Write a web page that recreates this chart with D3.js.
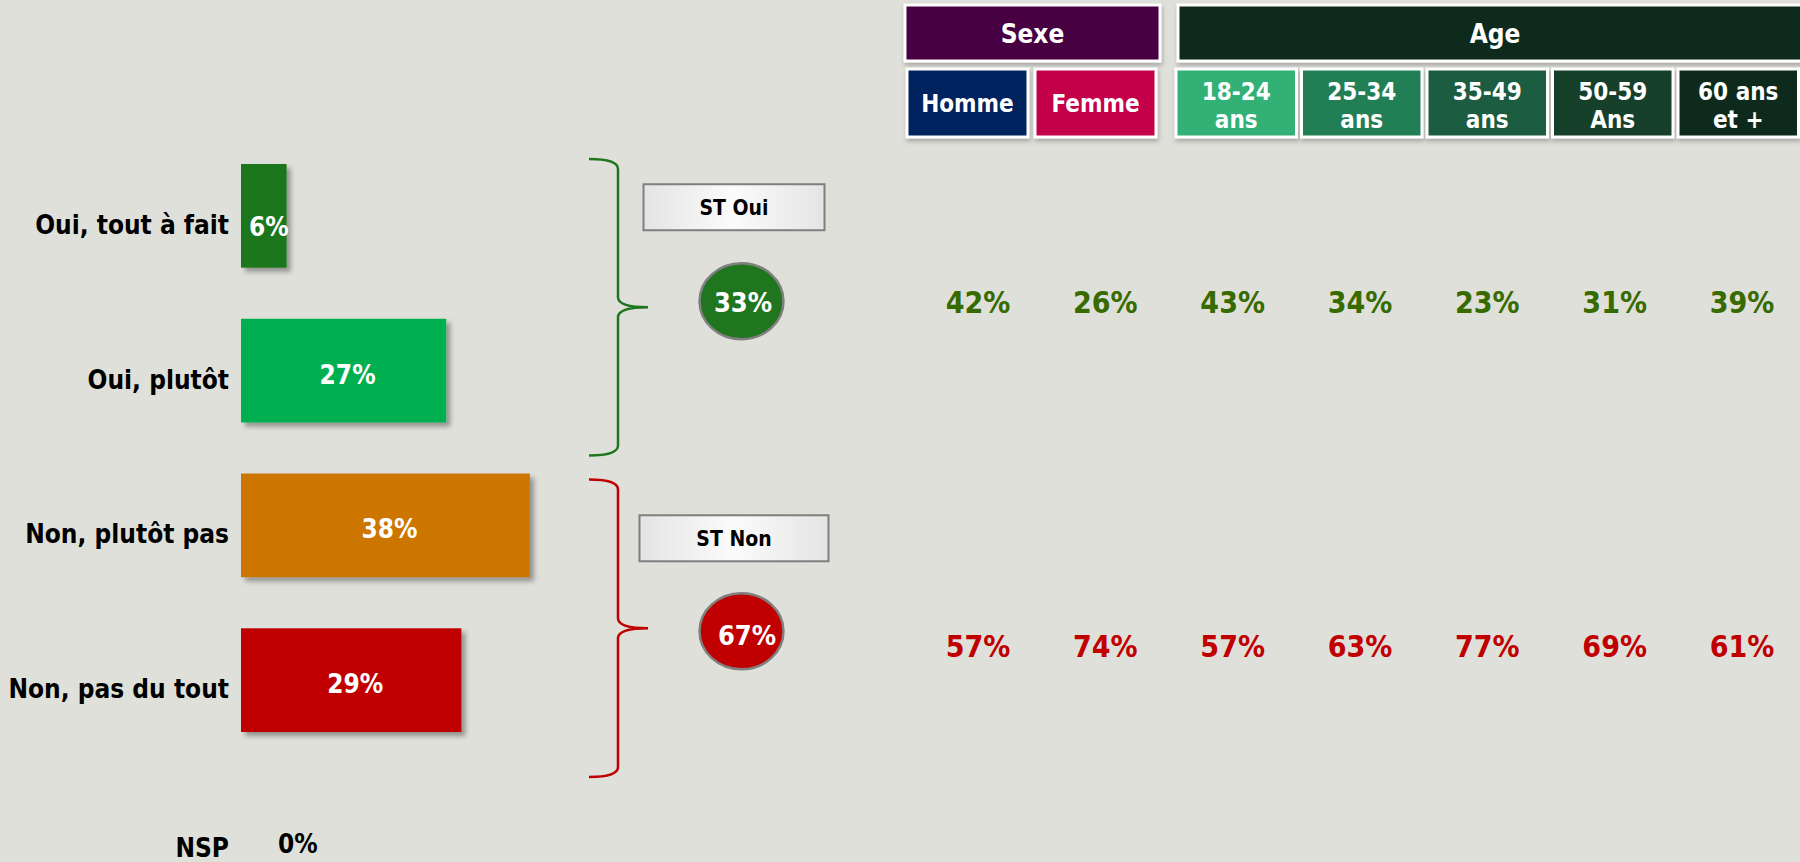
<!DOCTYPE html>
<html>
<head>
<meta charset="utf-8">
<script src="https://cdn.jsdelivr.net/npm/d3@7"></script>
<style>
    body { margin: 0; background: #dfe0da; }
    svg { display: block; font-family: "DejaVu Sans Condensed", "DejaVu Sans", Verdana, sans-serif; font-weight: bold; }
</style>
</head>
<body>
<div id="chart"></div>
<script>
// Data
const categories = ["Oui, tout à fait", "Oui, plutôt", "Non, plutôt pas", "Non, pas du tout"];
const values = [6, 27, 38, 29];
const barColors = ["#1f761f", "#00af50", "#cc7606", "#c00000"];
const nspLabel = "NSP";
const nspValue = 0;

const subtotalLabels = ["ST Oui", "ST Non"];
const subtotalValues = [33, 67];
const subtotalColors = ["#1f761f", "#c00000"];
const rowTextColors = ["#376b00", "#c00000"];

const sexColumns = ["Homme", "Femme"];
const sexColors = ["#00205f", "#c5004c"];
const ageColumns = ["18-24|ans", "25-34|ans", "35-49|ans", "50-59|Ans", "60 ans|et +"];
const ageColors = ["#33b075", "#237e55", "#1c5b3f", "#143f2c", "#0d2a1d"];
const groupLabels = ["Sexe", "Age"];
const groupColors = ["#470042", "#0c291b"];

const stOuiByColumn = [42, 26, 43, 34, 23, 31, 39];
const stNonByColumn = [57, 74, 57, 63, 77, 69, 61];

const renderChart = () => {

    const width = 1800;
    const height = 862;

    const svg = d3.select("#chart")
        .append("svg")
        .attr("width", width)
        .attr("height", height);

    // Shadows
    const defs = svg.append("defs");
    defs.append("filter")
        .attr("id", "barShadow")
        .attr("x", "-10%").attr("y", "-10%").attr("width", "130%").attr("height", "130%")
        .append("feDropShadow")
        .attr("dx", 4).attr("dy", 4).attr("stdDeviation", 2.5)
        .attr("flood-color", "#000").attr("flood-opacity", 0.35);
    defs.append("filter")
        .attr("id", "headShadow")
        .attr("x", "-10%").attr("y", "-10%").attr("width", "130%").attr("height", "140%")
        .append("feDropShadow")
        .attr("dx", 1).attr("dy", 3).attr("stdDeviation", 2)
        .attr("flood-color", "#000").attr("flood-opacity", 0.25);
    const grad = defs.append("linearGradient")
        .attr("id", "stGrad")
        .attr("x1", "0%").attr("x2", "100%");
    grad.append("stop").attr("offset", "0%").attr("stop-color", "#e4e4e4");
    grad.append("stop").attr("offset", "50%").attr("stop-color", "#fbfbfb");
    grad.append("stop").attr("offset", "100%").attr("stop-color", "#e4e4e4");

    // Bars
    const x = d3.scaleLinear()
        .domain([0, 100])
        .range([241, 1001]);

    const y = d3.scaleBand()
        .domain(categories)
        .range([164, 732])
        .paddingInner(0.33)
        .paddingOuter(0);

    const bars = svg.append("g").attr("class", "bars");

    bars.selectAll("rect")
        .data(values)
        .enter()
        .append("rect")
        .attr("x", x(0))
        .attr("y", (d, i) => y(categories[i]))
        .attr("width", d => x(d) - x(0))
        .attr("height", y.bandwidth())
        .attr("fill", (d, i) => barColors[i])
        .attr("filter", "url(#barShadow)");

    bars.selectAll(".cat")
        .data(categories)
        .enter()
        .append("text")
        .attr("class", "cat")
        .attr("x", x(0) - 12)
        .attr("y", d => y(d) + y.bandwidth() / 2 + 9)
        .attr("text-anchor", "end")
        .attr("dominant-baseline", "central")
        .attr("font-size", 26)
        .attr("fill", "#000")
        .text(d => d);

    bars.selectAll(".val")
        .data(values)
        .enter()
        .append("text")
        .attr("class", "val")
        .attr("x", d => (x(d) - x(0) < 60) ? x(0) + 8 : (x(0) + x(d)) / 2 + 4)
        .attr("y", (d, i) => y(categories[i]) + y.bandwidth() / 2 + (x(d) - x(0) < 60 ? 11 : 4))
        .attr("text-anchor", d => (x(d) - x(0) < 60) ? "start" : "middle")
        .attr("dominant-baseline", "central")
        .attr("font-size", 26)
        .attr("fill", "#fff")
        .text(d => `${d}%`);

    // NSP
    svg.append("text")
        .attr("x", x(0) - 12)
        .attr("y", 857)
        .attr("text-anchor", "end")
        .attr("font-size", 26)
        .text(nspLabel);
    svg.append("text")
        .attr("x", x(0) + 37)
        .attr("y", 853)
        .attr("font-size", 26)
        .text(`${nspValue}%`);

    // Braces + subtotals
    const braces = [
        { top: y(categories[0]) - 5, bottom: y(categories[1]) + y.bandwidth() + 33 },
        { top: y(categories[2]) + 6, bottom: y(categories[3]) + y.bandwidth() + 45 }
    ];

    const bracePath = (top, bottom) => {
        const x0 = 589, xv = 618, xt = 648, r = 10;
        const mid = (top + bottom) / 2;
        const p = d3.path();
        p.moveTo(x0, top);
        p.quadraticCurveTo(xv, top, xv, top + r);
        p.lineTo(xv, mid - r);
        p.quadraticCurveTo(xv, mid, xt, mid);
        p.quadraticCurveTo(xv, mid, xv, mid + r);
        p.lineTo(xv, bottom - r);
        p.quadraticCurveTo(xv, bottom, x0, bottom);
        return p.toString();
    };

    braces.forEach((b, i) => {
        const mid = (b.top + b.bottom) / 2;
        const g = svg.append("g").attr("class", "subtotal");

        g.append("path")
            .attr("d", bracePath(b.top, b.bottom))
            .attr("fill", "none")
            .attr("stroke", subtotalColors[i])
            .attr("stroke-width", 2.5);

        const boxW = i === 0 ? 181 : 189;
        const boxY = i === 0 ? mid - 123 : mid - 113;
        g.append("rect")
            .attr("x", 734 - boxW / 2)
            .attr("y", boxY)
            .attr("width", boxW)
            .attr("height", 46)
            .attr("fill", "url(#stGrad)")
            .attr("stroke", "#7f7f7f")
            .attr("stroke-width", 2);
        g.append("text")
            .attr("x", 734)
            .attr("y", boxY + 24)
            .attr("text-anchor", "middle")
            .attr("dominant-baseline", "central")
            .attr("font-size", 21)
            .text(subtotalLabels[i]);

        const cy = i === 0 ? mid - 6 : mid + 3;
        g.append("ellipse")
            .attr("cx", 741.5)
            .attr("cy", cy)
            .attr("rx", 42)
            .attr("ry", 38)
            .attr("fill", subtotalColors[i])
            .attr("stroke", "#808080")
            .attr("stroke-width", 2.5);
        g.append("text")
            .attr("x", i === 0 ? 743 : 747)
            .attr("y", i === 0 ? cy + 1 : cy + 4)
            .attr("text-anchor", "middle")
            .attr("dominant-baseline", "central")
            .attr("font-size", 27)
            .attr("fill", "#fff")
            .text(`${subtotalValues[i]}%`);
    });

    // Header columns
    const sexScale = d3.scaleBand()
        .domain(sexColumns)
        .range([907, 1156])
        .paddingInner(0.055);
    const ageScale = d3.scaleBand()
        .domain(ageColumns)
        .range([1176, 1798.5])
        .paddingInner(0.04);

    const columns = sexColumns.map((c, i) => ({ label: c, x: sexScale(c), w: sexScale.bandwidth(), color: sexColors[i] }))
        .concat(ageColumns.map((c, i) => ({ label: c, x: ageScale(c), w: ageScale.bandwidth(), color: ageColors[i] })));

    const head = svg.append("g").attr("class", "header");

    const groupBoxes = [
        { x: sexScale.range()[0] - 2, x1: sexScale.range()[1] + 4 },
        { x: ageScale.range()[0] + 2, x1: width + 4 }
    ];
    head.selectAll(".group")
        .data(groupLabels)
        .enter()
        .append("rect")
        .attr("class", "group")
        .attr("x", (d, i) => groupBoxes[i].x)
        .attr("y", 5)
        .attr("width", (d, i) => groupBoxes[i].x1 - groupBoxes[i].x)
        .attr("height", 56)
        .attr("fill", (d, i) => groupColors[i])
        .attr("stroke", "#fff")
        .attr("stroke-width", 3)
        .attr("filter", "url(#headShadow)");
    head.selectAll(".groupText")
        .data(groupLabels)
        .enter()
        .append("text")
        .attr("class", "groupText")
        .attr("x", (d, i) => i === 0 ? (groupBoxes[i].x + groupBoxes[i].x1) / 2 : 1495)
        .attr("y", 34)
        .attr("text-anchor", "middle")
        .attr("dominant-baseline", "central")
        .attr("font-size", 26)
        .attr("fill", "#fff")
        .text(d => d);

    head.selectAll(".col")
        .data(columns)
        .enter()
        .append("rect")
        .attr("class", "col")
        .attr("x", d => d.x)
        .attr("y", 69)
        .attr("width", d => d.w)
        .attr("height", 68)
        .attr("fill", d => d.color)
        .attr("stroke", "#fff")
        .attr("stroke-width", 3)
        .attr("filter", "url(#headShadow)");

    const colText = head.selectAll(".colText")
        .data(columns)
        .enter()
        .append("text")
        .attr("class", "colText")
        .attr("text-anchor", "middle")
        .attr("font-size", 24)
        .attr("fill", "#fff");
    colText.each(function(d) {
        const lines = d.label.split("|");
        const t = d3.select(this);
        lines.forEach((line, k) => {
            t.append("tspan")
                .attr("x", d.x + d.w / 2)
                .attr("y", lines.length === 1 ? 103 + 9 : 91 + k * 28 + 9)
                .text(line);
        });
    });

    // Subtotal values per column
    const valueX = d3.scalePoint()
        .domain(d3.range(stOuiByColumn.length))
        .range([978, 1742]);
    const rowY = [302, 646];

    [stOuiByColumn, stNonByColumn].forEach((row, r) => {
        svg.append("g")
            .selectAll("text")
            .data(row)
            .enter()
            .append("text")
            .attr("x", (d, i) => valueX(i))
            .attr("y", rowY[r])
            .attr("text-anchor", "middle")
            .attr("dominant-baseline", "central")
            .attr("font-size", 30)
            .attr("fill", rowTextColors[r])
            .text(d => `${d}%`);
    });
};

renderChart();
</script>
</body>
</html>
